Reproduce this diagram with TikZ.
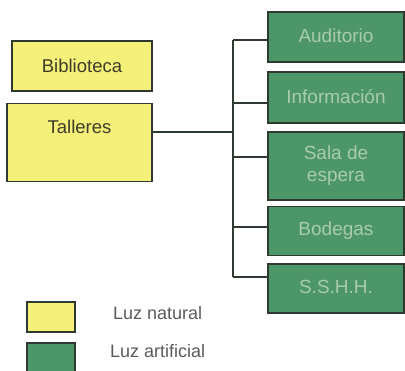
\documentclass[tikz,border=0pt]{standalone}
\usepackage{fontspec}
\setmainfont{Liberation Sans}
\definecolor{yel}{HTML}{F4F07A}
\definecolor{grn}{HTML}{4C9669}
\definecolor{grntxt}{HTML}{A9CBAE}
\definecolor{edge}{HTML}{2E3A30}
\definecolor{ytxt}{HTML}{3C3C28}
\definecolor{ltxt}{HTML}{5A5A5A}
\begin{document}
\begin{tikzpicture}[x=1pt,y=-1pt,
  ybox/.style={draw=edge,line width=1.4pt,fill=yel,text=ytxt,font=\fontsize{18.5}{20}\selectfont,inner sep=0pt},
  gbox/.style={draw=edge,line width=1.4pt,fill=grn,text=grntxt,font=\fontsize{19}{22}\selectfont,inner sep=0pt,align=center,minimum width=136pt},
  conn/.style={draw=edge,line width=1.3pt},
  leg/.style={text=ltxt,font=\fontsize{18}{20}\selectfont,inner sep=0pt,anchor=base west}]
\useasboundingbox (0,0) rectangle (405,371);
\clip (0,0) rectangle (405,371);
% yellow boxes
\node[ybox,minimum width=140pt,minimum height=50pt] (bib) at (82,66) {Biblioteca};
\node[ybox,minimum width=145pt,text height=30pt,text depth=48pt,anchor=north] (tal) at (79.5,103) {Talleres};
% green boxes
\node[gbox,minimum height=50pt] (aud) at (336,37) {\raisebox{3pt}{Auditorio}};
\node[gbox,minimum height=51pt] (inf) at (336,97.5) {\raisebox{2pt}{Información}};
\node[gbox,minimum height=68pt] (sal) at (336,166) {Sala de\\espera};
\node[gbox,minimum height=49pt] (bod) at (336,231) {\raisebox{2pt}{Bodegas}};
\node[gbox,minimum height=49pt] (ssh) at (336,288.5) {\raisebox{3pt}{S.S.H.H.}};
% trunk
\coordinate (t1) at (233,40);
\coordinate (t2) at (233,103);
\coordinate (tj) at (233,132);
\coordinate (t3) at (233,157);
\coordinate (t4) at (233,227);
\coordinate (t5) at (233,277);
\draw[conn] (t1) -- (t5);
\draw[conn] (t1) -- (t1 -| aud.west);
\draw[conn] (t2) -- (t2 -| inf.west);
\draw[conn] (t3) -- (t3 -| sal.west);
\draw[conn] (t4) -- (t4 -| bod.west);
\draw[conn] (t5) -- (t5 -| ssh.west);
\draw[conn] (tal.east |- tj) -- (tj);
% legend
\node[draw=edge,line width=1.3pt,fill=yel,minimum width=48pt,minimum height=30pt,inner sep=0pt] (ly) at (51,317) {};
\node[draw=edge,line width=1.3pt,fill=grn,minimum width=48pt,minimum height=30pt,inner sep=0pt] (lg) at (51,358) {};
\node[leg] (lyt) at (113,320) {Luz natural};
\node[leg] (lgt) at (110,358) {Luz artificial};
\end{tikzpicture}
\end{document}
